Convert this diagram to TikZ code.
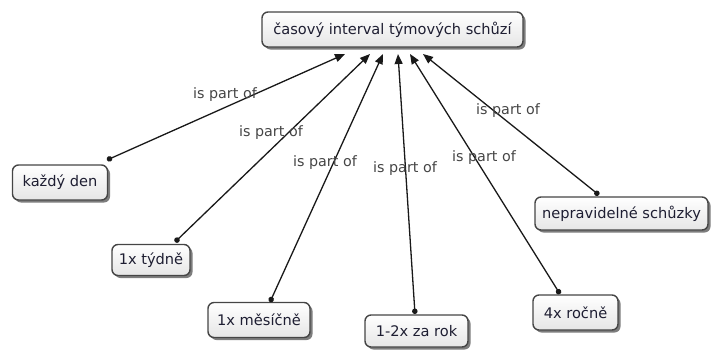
\documentclass[tikz,border=0pt]{standalone}
\usepackage{fontspec}
\setmainfont{DejaVu Sans}
\usetikzlibrary{arrows.meta,shadows}
\definecolor{boxline}{HTML}{454545}
\definecolor{boxtext}{HTML}{1E1E32}
\definecolor{labeltext}{HTML}{454545}
\tikzset{
  concept/.style={draw=boxline, line width=1.4pt, rounded corners=6pt,
    top color=white, bottom color=black!10, text=boxtext,
    font=\fontsize{14.6}{16}\selectfont, inner sep=0pt, anchor=center,
    drop shadow={shadow xshift=2.5pt, shadow yshift=-2.5pt, fill=black!60, opacity=0.85}},
  link/.style={line width=1.3pt, draw=black!90,
    {Circle[length=5.5pt]}-{Triangle[length=10pt,width=8pt]}},
  phrase/.style={text=labeltext, font=\fontsize{14.3}{16}\selectfont, inner sep=0pt}
}
\begin{document}
\begin{tikzpicture}[x=1pt,y=-1pt]
\useasboundingbox (0,0) rectangle (711,349);

% concepts
\node[concept, minimum width=261pt, minimum height=35pt] (main) at (392.5,29.5) {časový interval týmových schůzí};
\node[concept, minimum width=95pt, minimum height=35pt] (kd) at (60,182.5) {každý den};
\node[concept, minimum width=78pt, minimum height=31pt] (tyd) at (151,260) {1x týdně};
\node[concept, minimum width=102pt, minimum height=35pt] (mes) at (259,320) {1x měsíčně};
\node[concept, minimum width=103pt, minimum height=32pt] (rok) at (416.5,331) {1-2x za rok};
\node[concept, minimum width=85pt, minimum height=35pt] (roc) at (575.5,312.5) {4x ročně};
\node[concept, minimum width=173pt, minimum height=33pt] (nep) at (621.5,213.5) {nepravidelné schůzky};

% connector end points on the concept borders
\coordinate (kdA) at (107,160);
\coordinate (tydA) at (175,242);
\coordinate (mesA) at (270,302);
\coordinate (rokA) at (415,314);
\coordinate (rocA) at (560,294);
\coordinate (nepA) at (599,195);
\coordinate (t1) at (345,54);
\coordinate (t2) at (370,54);
\coordinate (t3) at (383,54);
\coordinate (t4) at (398,54);
\coordinate (t5) at (410,54);
\coordinate (t6) at (423,54);

\draw[link] (kdA) -- (t1);
\draw[link] (tydA) -- (t2);
\draw[link] (mesA) -- (t3);
\draw[link] (rokA) -- (t4);
\draw[link] (rocA) -- (t5);
\draw[link] (nepA) -- (t6);

% linking phrases
\node[phrase] (p1) at (225,95) {is part of};
\node[phrase] (p2) at (271,133) {is part of};
\node[phrase] (p3) at (325,163) {is part of};
\node[phrase] (p4) at (405,169) {is part of};
\node[phrase] (p5) at (508,111) {is part of};
\node[phrase] (p6) at (484,158) {is part of};
\end{tikzpicture}
\end{document}
